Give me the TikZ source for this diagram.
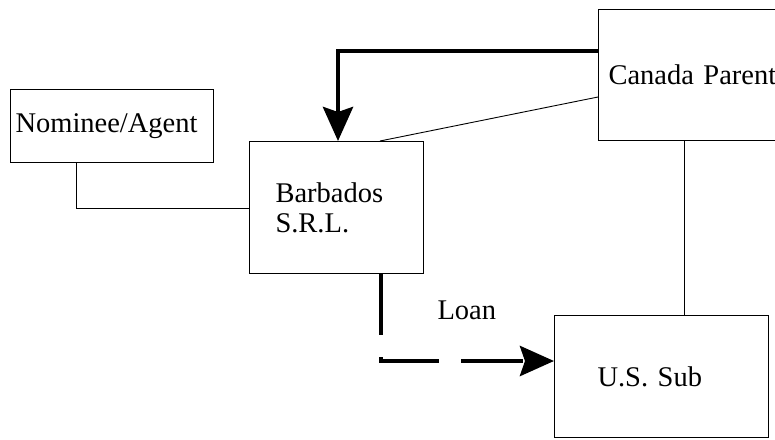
\documentclass[tikz,border=0pt]{standalone}
\usepackage{fontspec}
\setmainfont{Liberation Serif}
\usetikzlibrary{arrows.meta}
\begin{document}
\begin{tikzpicture}[x=1pt,y=-1pt,
  entity/.style={draw=black,line width=1pt,rectangle,anchor=north west,
    align=left,inner ysep=0pt,font=\fontsize{28.5}{30}\selectfont},
  thinlink/.style={draw=black,line width=0.9pt},
  flow/.style={draw=black,line width=4.6pt,
    -{Stealth[length=34pt,width=30pt,inset=5pt]}},
  loanflow/.style={flow,dash pattern=on 62pt off 22pt}]
\useasboundingbox (0,0) rectangle (775,439);
\clip (0,0) rectangle (775,439);
\fill[white] (0,0) rectangle (775,439);

% entities
\node[entity,minimum height=73pt,inner xsep=5pt,text width=193pt] (nom) at (10,89) {Nominee/Agent};
\node[entity,minimum height=132pt,inner xsep=26pt,text width=122pt] (bar) at (249,141) {Barbados\\S.R.L.};
\node[entity,minimum height=131pt,inner xsep=10pt,text width=180pt] (can) at (598,9) {Canada Parent};
\node[entity,minimum height=122pt,inner xsep=43pt,text width=128pt] (uss) at (554,315) {U.S. Sub};

% anchor points on the box edges
\coordinate (canFlow) at (598,51);
\coordinate (barTop) at (338,141);
\coordinate (canLink) at (598,97);
\coordinate (barLink) at (380,141);
\coordinate (nomBot) at (76,162);
\coordinate (barLeft) at (249,208);
\coordinate (canBot) at (684,140);
\coordinate (ussTop) at (684,315);
\coordinate (barBot) at (381,273);
\coordinate (ussLeft) at (554,361);

% ownership links
\draw[thinlink] (nomBot) |- (barLeft);
\draw[thinlink] (canLink) -- (barLink);
\draw[thinlink] (canBot) -- (ussTop);

% flows
\draw[flow] (canFlow) -| (barTop);
\draw[loanflow] (barBot) |- (ussLeft);
\node[font=\fontsize{28.5}{30}\selectfont,anchor=base west] (loan) at (434,319) {Loan};
\end{tikzpicture}
\end{document}
